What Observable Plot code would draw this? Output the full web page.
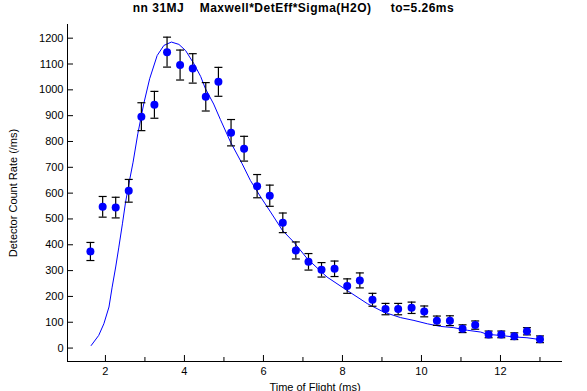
<!DOCTYPE html>
<html>
<head>
<meta charset="utf-8">
<script src="https://cdn.jsdelivr.net/npm/d3@7"></script>
<script src="https://cdn.jsdelivr.net/npm/@observablehq/plot@0.6"></script>
<style>
  html, body { margin: 0; padding: 0; background: #fff; }
  #wrap { position: relative; width: 587px; height: 391px; overflow: hidden; }
  #title { position: absolute; left: 0; top: 1px; width: 587px; text-align: center;
           font: bold 12px "Liberation Sans", Arial, sans-serif; letter-spacing: 0.5px;
           white-space: pre; color: #000; }
  svg { display: block; }
</style>
</head>
<body>
<div id="wrap">
  <div id="title">nn 31MJ    Maxwell*DetEff*Sigma(H2O)     to=5.26ms</div>
</div>
<script>
// measured data points (time of flight, ms)
const tof = [1.62, 1.93, 2.26, 2.59, 2.91, 3.24, 3.56, 3.89, 4.21, 4.54, 4.86, 5.18, 5.51, 5.84, 6.16, 6.49, 6.82, 7.14, 7.47, 7.80, 8.12, 8.44, 8.76, 9.09, 9.41, 9.75, 10.07, 10.39, 10.72, 11.04, 11.36, 11.70, 12.02, 12.35, 12.67, 13.00];
const rate = [374, 547, 544, 609, 896, 942, 1146, 1096, 1083, 973, 1031, 834, 772, 627, 590, 485, 378, 334, 303, 307, 240, 262, 187, 151, 151, 156, 142, 106, 106, 75, 89, 53, 53, 46, 65, 34];
const err = [35, 40, 40, 44, 54, 52, 58, 58, 57, 55, 56, 51, 48, 45, 41, 38, 33, 32, 28, 30, 28, 29, 25, 22, 22, 22, 21, 18, 19, 15, 16, 13, 13, 13, 14, 13];

// model curve Maxwell*DetEff*Sigma(H2O)
const fitX = [1.64, 1.83, 1.96, 2.09, 2.17, 2.26, 2.34, 2.43, 2.51, 2.61, 2.70, 2.82, 2.97, 3.12, 3.31, 3.48, 3.67, 3.86, 4.03, 4.24, 4.41, 4.53, 4.74, 4.91, 5.17, 5.46, 5.67, 5.93, 6.18, 6.48, 6.77, 7.11, 7.61, 8.12, 8.63, 9.05, 9.47, 9.81, 10.15, 10.48, 10.82, 11.16, 11.50, 11.67, 12.00, 12.34, 12.67, 13.00];
const fitY = [10, 49, 94, 159, 236, 314, 391, 481, 565, 649, 720, 830, 946, 1043, 1133, 1172, 1185, 1176, 1152, 1101, 1052, 1005, 945, 885, 797, 714, 649, 585, 527, 456, 410, 346, 275, 223, 172, 139, 118, 107, 94, 84, 79, 69, 62, 53, 49, 43, 40, 33];

const xTicks = [2, 4, 6, 8, 10, 12];
const xMinor = [3, 5, 7, 9, 11, 13];
const yTicks = [0, 100, 200, 300, 400, 500, 600, 700, 800, 900, 1000, 1100, 1200];

const points = tof.map((x, i) => ({x, y: rate[i], e: err[i]}));
const fit = fitX.map((x, i) => ({x, y: fitY[i]}));

const capSymbol = { draw(ctx) { ctx.moveTo(-4, 0); ctx.lineTo(4, 0); } };

const font = '"Liberation Sans", Arial, sans-serif';

const chart = Plot.plot({
  width: 587,
  height: 391,
  marginLeft: 67,
  marginRight: 25,
  marginTop: 24,
  marginBottom: 30,
  style: { fontFamily: font, fontSize: "11px", color: "#000", background: "#fff" },
  x: { domain: [1.04, 13.57], axis: null },
  y: { domain: [-52, 1253], axis: null },
  marks: [
    // axis lines
    Plot.ruleX([1.04], { stroke: "#000", strokeWidth: 1 }),
    Plot.ruleY([-52], { stroke: "#000", strokeWidth: 1 }),
    // ticks (inward)
    Plot.axisX(xTicks, { tickSize: -6, tickPadding: 12, tickFormat: d3.format("d"), stroke: "#000", fill: "#000", label: "Time of Flight (ms)", labelAnchor: "center", labelArrow: "none", labelOffset: 29, fontSize: 11 }),
    Plot.axisX(xMinor, { tickSize: -4, text: null, label: null, stroke: "#000" }),
    Plot.axisY(yTicks, { tickSize: -6, tickPadding: 10, tickFormat: d3.format("d"), stroke: "#000", fill: "#000", label: "Detector Count Rate (/ms)", labelAnchor: "center", labelArrow: "none", labelOffset: 58, fontSize: 11 }),
    // model curve
    Plot.line(fit, { x: "x", y: "y", stroke: "#0000ff", strokeWidth: 1 }),
    // error bars
    Plot.ruleX(points, { x: "x", y1: d => d.y - d.e, y2: d => d.y + d.e, stroke: "#000", strokeWidth: 1.2 }),
    Plot.dot(points, { x: "x", y: d => d.y + d.e, symbol: capSymbol, stroke: "#000", strokeWidth: 1.2, fill: "none" }),
    Plot.dot(points, { x: "x", y: d => d.y - d.e, symbol: capSymbol, stroke: "#000", strokeWidth: 1.2, fill: "none" }),
    // data points
    Plot.dot(points, { x: "x", y: "y", r: 4, fill: "#0000ff", stroke: "none" })
  ]
});

document.getElementById("wrap").insertBefore(chart, document.getElementById("title"));
</script>
</body>
</html>
